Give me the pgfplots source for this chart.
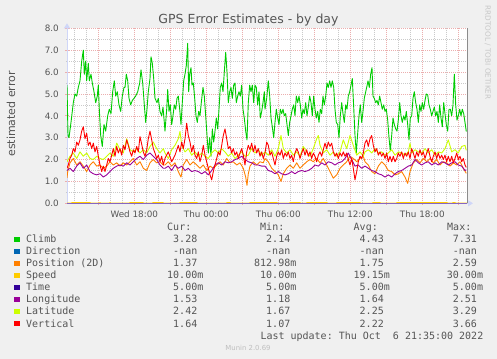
\documentclass[border=0pt]{standalone}
\usepackage{fontspec}
\setmainfont{DejaVu Sans}
\newfontfamily\mono{DejaVu Sans Mono}
\usepackage{pgfplots}
\pgfplotsset{compat=1.18}
\usepackage{pgfplotstable}
\usetikzlibrary{arrows.meta}
\frenchspacing

\definecolor{bgc}{HTML}{F0F0F0}
\definecolor{txtc}{HTML}{555555}
\definecolor{axisc}{HTML}{CFD6F8}
\definecolor{mgrid}{HTML}{EBAEAE}
\definecolor{ngrid}{HTML}{CACACA}
\definecolor{climbc}{HTML}{00CC00}
\definecolor{dirc}{HTML}{0066B3}
\definecolor{posc}{HTML}{FF8000}
\definecolor{speedc}{HTML}{FFCC00}
\definecolor{timec}{HTML}{330099}
\definecolor{lonc}{HTML}{990099}
\definecolor{latc}{HTML}{CCFF00}
\definecolor{vertc}{HTML}{FF0000}

% x = 5-minute slot position (67 = Wed ~12:25, 206.3 = Thu 00:00, 12 per hour)
\pgfplotstableread{
px v
67 5.4
68 3.1
69 3.0
71 3.7
73.3 4.6
75 5.0
76.7 4.9
78.3 5.3
80 5.6
81.7 6.5
83.3 7.0
84.3 5.9
85.7 6.5
86.7 5.6
88.3 6.4
89.3 5.6
91 5.9
92.3 5.5
94 5.1
95.7 4.6
97.3 4.9
98.3 5.4
99.3 4.3
100.7 3.1
102.3 2.6
104 3.6
105.7 3.3
107.7 4.0
109.3 4.3
111 4.1
112.7 5.1
114.3 5.6
115.7 4.9
117.3 5.1
119 4.5
120.7 4.2
122.3 4.9
124 5.3
125 5.3
126.3 5.9
127.7 5.6
129 4.8
130.7 4.5
132.3 4.7
134 4.8
135.7 4.9
137.7 5.1
139.7 5.5
141 6.1
142.7 5.5
144.3 4.5
145.7 3.7
147 4.3
148.3 5.1
150 5.7
151 6.7
152.3 6.4
153.7 5.7
155 4.8
157 4.6
158.3 4.8
160 4.2
161.7 4.0
163 4.4
164.3 3.7
165 3.3
166.7 4.3
167.7 5.2
169 4.2
170.3 4.5
171.7 3.6
172.7 3.9
174.3 4.5
175.7 4.3
177 4.8
178.3 4.9
179.7 4.3
181 3.6
182.3 4.6
183.7 5.6
185 5.9
186.3 6.3
187.7 7.31
188.7 5.1
189.7 5.9
191 6.2
192 5.4
193.3 5.5
194.7 4.8
196 4.0
197.3 3.7
198.7 4.2
200 4.0
201.3 4.6
203 5.3
204.3 4.9
205.7 4.0
207 3.1
208.3 2.3
209.7 3.0
211 2.14
212.3 3.4
213.7 2.8
215 3.3
216.3 3.9
217.7 3.4
219 4.3
220.3 5.3
221.7 5.5
223 5.1
224.3 6.0
225.7 6.9
227 6.0
228.3 4.6
229.7 5.1
231 5.3
232.3 4.8
233.7 5.4
235 5.5
236.3 4.6
237.7 4.9
239 5.1
240.3 4.9
241.7 5.4
243 4.3
244.3 3.9
245.7 3.3
247 2.9
248.3 4.6
249.7 5.4
251 5.1
252.3 5.4
253.7 4.6
255 5.4
256.3 5.3
257.7 4.5
259 5.1
260.3 3.9
261.7 4.2
263 4.6
264.3 5.1
265 4.3
266.7 4.8
268.3 5.6
269.7 4.9
271 3.9
272.3 3.5
273.7 3.0
275 3.7
276.3 4.3
277.7 3.9
279 3.6
280.3 4.3
281.7 4.1
283 4.3
284.3 4.0
285.7 4.1
287 3.6
288.3 3.1
289.7 3.7
291 4.0
292.3 4.3
293.7 4.5
295 4.0
296.3 4.9
297.7 4.6
299 4.9
300.3 4.5
301.7 3.9
303 4.3
304.3 4.1
305.7 4.6
307 4.0
308.3 4.4
309.7 4.9
311 4.6
312.3 4.0
313.7 4.9
315 4.3
316.3 3.9
317.7 4.2
319 3.7
320.3 4.3
321.7 4.1
323 4.9
324.3 4.5
325.7 4.9
327 5.5
328.3 5.3
329.7 5.6
331 5.3
332.3 5.6
333.7 5.3
335 4.3
336.3 3.7
337.7 3.6
339 3.0
340.3 4.0
341.7 4.6
343 4.1
344.3 3.7
345.7 4.5
347 4.3
348.3 4.9
349.7 5.1
351 5.4
352.3 5.7
353.7 4.4
355 3.1
356.3 2.3
357.7 3.2
359 4.0
360.3 4.5
361.7 3.7
363 4.2
364.3 4.8
365 4.95
366.7 5.3
368 5.6
369.3 5.3
370.7 5.9
372 6.2
373 4.9
374.3 4.8
375.7 4.6
377 4.7
378.3 4.5
379.7 4.9
381 4.6
382.3 4.3
383.7 4.5
385 4.2
386.3 4.3
387.7 3.8
389 3.0
390.3 2.4
391.7 3.1
393 3.9
394.3 3.6
395.7 3.4
397 3.3
398.3 3.8
399.7 4.6
401 4.0
402.3 3.7
403.7 4.0
405 3.8
406.3 4.2
407.7 3.6
409 2.9
410.3 3.9
411.7 4.0
413 4.8
414.3 5.1
415.7 4.6
417 4.3
418.3 3.7
419.7 4.5
421 4.2
422.3 4.6
423.7 4.3
425 4.7
426.3 5.0
427.7 4.95
429 4.5
430.3 4.3
431.7 4.0
433 4.2
434.3 4.4
435.7 4.0
437 4.2
438.3 3.7
439.7 4.5
441 3.9
442.3 3.5
443.7 4.6
445 4.1
446.3 3.6
447.7 3.3
449 4.3
450.3 4.3
451.7 4.0
453 4.5
454.3 5.9
455.7 4.5
457 3.8
458.3 4.0
459.7 4.3
461 4.0
462.3 4.3
463.7 4.1
465 3.7
466.3 3.28
}\climb

\pgfplotstableread{
px v
67 1.15
67.7 1.45
70 1.85
73.3 2.05
76.7 1.75
80 1.9
83.3 1.7
86.7 1.45
90 1.75
93.3 1.9
96.7 1.7
100 1.75
103.3 1.6
106.7 1.7
110 1.9
113.3 1.75
116.7 1.85
120 1.7
123.3 1.85
126.7 1.75
130 1.9
133.3 2.05
136.7 1.75
140 1.9
143.3 1.6
146.7 1.5
150 1.85
153.3 2.0
156.7 1.85
160 1.9
163.3 1.75
165 1.75
168.3 1.9
171.7 1.7
175 1.85
178.3 1.45
181 1.2
183.3 1.75
186.7 2.0
190 1.75
193.3 1.9
196.7 1.75
200 1.6
203.3 1.75
206.7 1.5
210 1.7
213.3 1.6
216.7 1.75
220 1.9
223.3 1.75
226.7 2.05
230 1.85
233.3 1.9
236.7 1.75
240 1.85
243.3 1.6
245.7 1.2
247 0.82
248.3 1.35
250 1.7
253.3 1.9
256.7 1.75
260 1.9
263.3 1.85
265 2.05
268.3 1.9
271.7 1.6
275 1.45
278.3 1.3
281 1.0
283.3 1.35
286.7 1.6
290 1.75
293.3 1.6
296.7 1.85
300 1.6
303.3 1.75
306.7 1.9
310 2.0
313.3 1.9
316.7 2.05
320 1.85
323.3 2.05
326.7 1.75
330 1.45
333.3 1.15
336.7 1.3
340 1.6
343.3 1.75
346.7 1.9
350 2.15
353.3 2.05
356.7 1.9
360 2.05
363.3 2.15
365 1.9
368.3 1.75
371.7 1.45
375 1.35
378.3 1.7
381.7 1.9
385 1.75
388.3 1.5
391.7 1.45
395 1.3
398.3 1.35
401.7 1.45
405 1.2
407.7 0.91
410 1.45
413.3 1.85
416.7 2.0
420 1.85
423.3 2.05
426.7 1.9
430 2.05
433.3 1.85
436.7 2.0
440 1.75
443.3 1.9
446.7 1.85
450 1.7
453.3 1.85
456.7 1.75
460 1.9
463.3 1.6
466.3 1.37
}\position

\pgfplotstableread{
px v
67 0.01
71 0.01
72 0.03
90 0.03
91 0.01
99 0.01
100 0.03
101 0.01
109 0.01
110 0.03
111 0.01
129 0.01
130 0.03
143 0.03
144 0.01
152 0.01
153 0.03
163 0.03
164 0.01
179 0.01
180 0.03
197 0.03
198 0.01
226 0.01
227 0.03
230 0.03
231 0.01
249 0.01
250 0.03
277 0.03
278 0.01
289 0.01
290 0.03
300 0.03
301 0.01
306 0.01
307 0.03
327 0.03
328 0.01
336 0.01
337 0.03
360 0.03
361 0.01
372 0.01
373 0.03
380 0.03
381 0.01
396 0.01
397 0.03
447 0.03
448 0.01
452 0.01
453 0.03
455 0.03
456 0.01
467 0.01
}\speed

\pgfplotstableread{
px v
67 0.005
467 0.005
}\timet

\pgfplotstableread{
px v
67 1.5
70 1.6
73.3 1.45
76.7 1.7
80 1.85
83.3 1.6
86.7 1.75
90 1.45
93.3 1.35
96.7 1.3
100 1.35
103.3 1.2
106.7 1.3
110 1.45
113.3 1.6
116.7 1.7
120 1.75
123.3 1.7
126.7 1.85
130 1.75
133.3 1.9
136.7 2.05
140 2.15
143.3 2.0
146.7 2.2
150 2.3
153.3 2.15
156.7 2.0
160 1.75
163.3 1.6
165 1.6
168.3 1.7
171.7 1.5
175 1.75
178.3 1.6
181.7 1.7
185 1.5
188.3 1.6
191.7 1.45
195 1.5
198.3 1.45
201.7 1.35
205 1.45
208.3 1.3
211.7 1.5
215 1.75
218.3 1.85
221.7 1.75
225 1.9
228.3 1.85
231.7 1.9
235 2.0
238.3 2.05
241.7 2.15
245 2.0
248.3 1.9
251.7 1.85
255 1.75
258.3 1.75
261.7 1.7
265 1.7
268.3 1.5
271.7 1.45
275 1.35
278.3 1.45
281.7 1.35
285 1.3
288.3 1.35
291.7 1.45
295 1.35
298.3 1.45
301.7 1.5
305 1.45
308.3 1.5
311.7 1.6
315 1.75
318.3 1.7
321.7 1.85
325 1.75
328.3 1.9
331.7 1.85
335 1.75
338.3 1.85
341.7 1.9
345 2.05
348.3 2.3
351.7 2.0
355 1.7
358.3 1.75
361.7 1.6
365 1.7
368.3 1.6
371.7 1.5
375 1.45
378.3 1.35
381.7 1.3
385 1.2
388.3 1.3
391.7 1.2
395 1.35
398.3 1.45
401.7 1.5
405 1.6
408.3 1.7
411.7 1.75
415 2.0
418.3 1.85
421.7 1.75
425 1.85
428.3 1.9
431.7 1.75
435 1.85
438.3 1.75
441.7 1.9
445 1.85
448.3 1.75
451.7 1.85
455 1.9
458.3 1.75
461.7 1.7
465 1.5
466.3 1.53
}\longitude

\pgfplotstableread{
px v
67 1.9
70 2.15
73.3 2.3
76.7 2.05
80 2.35
83.3 2.15
86.7 2.3
90 2.05
93.3 2.0
96.7 2.15
100 2.05
103.3 2.0
106.7 2.15
110 2.3
113.3 2.15
116.7 2.75
120 2.45
123.3 2.3
126.7 2.95
130 2.45
133.3 2.35
136.7 2.5
140 2.3
143.3 2.45
146.7 2.3
150 2.6
153.3 2.8
156.7 2.5
160 2.3
163.3 2.5
165 2.3
168.3 2.05
171.7 2.45
175 2.65
178.3 2.95
180 3.29
181.7 2.65
185 2.35
188.3 2.5
191.7 2.2
195 2.35
198.3 2.15
201.7 2.3
205 2.15
208.3 2.05
211.7 2.3
215 2.45
218.3 2.3
221.7 2.5
225 2.35
228.3 2.15
231.7 2.3
235 2.05
238.3 2.2
241.7 2.35
245 2.15
248.3 2.2
251.7 2.5
255 2.3
258.3 2.45
261.7 2.2
265 2.35
268.3 2.2
271.7 2.45
275 2.15
278.3 2.5
281 3.1
283.3 2.5
286.7 2.3
290 2.45
293.3 2.2
296.7 2.35
300 2.15
303.3 2.6
306.7 2.35
310 2.15
313.3 2.5
316.7 2.95
318.3 3.1
320 2.65
323.3 2.3
326.7 2.45
330 2.2
333.3 2.35
336.7 2.15
340 2.35
343.3 2.9
346.7 2.5
350 3.1
353.3 2.65
356.7 2.2
360 2.35
363.3 2.15
365 2.35
368.3 2.45
371.7 2.3
375 2.5
378.3 2.3
381.7 2.35
385 2.2
388.3 2.3
391.7 2.45
395 2.2
398.3 2.35
401.7 2.3
405 2.2
408.3 2.35
410 2.75
411.7 2.3
415 2.45
418.3 2.35
421.7 2.3
425 2.5
428.3 2.3
431.7 2.45
435 2.2
438.3 2.35
441.7 2.3
445 2.5
448.3 2.9
451.7 2.35
455 2.45
458.3 2.3
461.7 2.6
465 2.65
466.3 2.42
}\latitude

\pgfplotstableread{
px v
67 1.6
68.3 1.75
70 2.05
71.7 2.2
73.3 2.5
75 2.35
76.7 2.8
78.3 2.65
80 2.9
81.7 3.3
83.3 3.5
85 2.95
86.7 3.2
88.3 2.65
90 2.8
91.7 2.5
93.3 2.75
95 2.35
96.7 2.6
98.3 2.15
100 1.75
101.7 1.45
103.3 1.7
105 1.45
106.7 1.75
108.3 2.05
110 1.9
111.7 2.2
113.3 2.5
115 2.15
116.7 2.6
118.3 2.3
120 2.5
121.7 2.2
123.3 2.65
125 2.45
126.7 2.9
128.3 2.65
130 2.35
131.7 2.15
133.3 2.45
135 2.3
136.7 2.6
138.3 2.35
140 3.05
141.7 2.7
143.3 2.35
145 2.15
146.7 2.45
148.3 2.95
150 3.3
151.7 2.9
153.3 2.5
155 2.3
156.7 2.05
158.3 2.2
160 1.9
161.7 2.15
163.3 1.75
165 2.05
168.3 2.35
171.7 1.9
175 2.2
178.3 2.65
180 2.35
181.7 2.8
183.3 2.5
185 2.95
186.7 3.66
188.3 3.1
190 2.8
191.7 2.35
193.3 2.65
195 2.2
196.7 2.05
198.3 2.35
200 1.9
201.7 2.2
203.3 2.65
205 2.2
206.7 1.9
208.3 1.6
210 1.3
211.7 1.07
213.3 1.45
215 1.75
216.7 2.05
218.3 2.35
220 2.2
221.7 2.65
223.3 3.1
225 3.4
226.7 2.95
228.3 2.5
230 2.6
231.7 2.3
233.3 2.5
235 2.2
236.7 2.35
238.3 2.05
240 2.3
241.7 2.5
243.3 2.2
245 1.75
246.7 2.35
248.3 2.65
250 2.45
251.7 2.75
253.3 2.35
255 2.65
256.7 2.3
258.3 2.5
260 2.15
261.7 2.35
263.3 2.05
265 2.3
266.7 2.8
268.3 2.65
270 2.2
271.7 2.35
273.3 2.05
275 1.75
276.7 2.15
278.3 2.35
280 2.2
281.7 2.45
283.3 2.05
285 2.3
286.7 2.15
288.3 2.35
290 2.05
291.7 2.2
293.3 1.9
295 2.3
296.7 2.5
298.3 2.35
300 2.05
301.7 2.3
303.3 2.5
305 2.2
306.7 2.45
308.3 2.15
310 2.35
311.7 2.05
313.3 2.3
315 2.15
316.7 1.9
318.3 2.2
320 2.35
321.7 2.15
323.3 2.45
325 2.75
326.7 2.5
328.3 2.8
330 2.6
331.7 2.75
333.3 2.35
335 2.15
336.7 2.3
338.3 2.05
340 2.3
341.7 2.15
343.3 2.35
345 2.15
346.7 2.3
348.3 2.0
350 1.75
351.7 2.05
353.3 1.6
355 1.07
356.7 1.45
358.3 1.9
360 2.15
361.7 2.05
363.3 2.3
365 2.75
366.7 2.9
368.3 2.6
370 2.95
371.7 3.1
373.3 2.65
375 2.35
376.7 2.5
378.3 2.2
380 2.35
381.7 2.15
383.3 2.3
385 2.05
386.7 2.3
388.3 1.9
390 2.15
391.7 1.9
393.3 2.15
395 1.9
396.7 2.05
398.3 2.3
400 2.15
401.7 2.35
403.3 2.05
405 2.3
406.7 2.15
408.3 2.35
410 2.05
411.7 2.5
413.3 2.3
415 2.05
416.7 2.35
418.3 2.15
420 2.45
421.7 2.2
423.3 2.35
425 2.05
426.7 2.3
428.3 2.5
430 2.15
431.7 1.9
433.3 2.15
435 2.35
436.7 2.05
438.3 2.3
440 2.05
441.7 2.2
443.3 2.0
445 2.2
446.7 1.9
448.3 2.15
450 1.9
451.7 2.15
453.3 1.85
455 2.05
456.7 2.3
458.3 2.0
460 2.15
461.7 1.9
463.3 2.05
465 1.75
466.3 1.64
}\vertical

\tikzset{
  lg/.style={font=\mono\fontsize{10bp}{12bp}\selectfont, text=txtc, inner sep=0pt},
}
\newcommand{\lrow}[7]{%
  \fill[#2] (14bp,#1bp+0.8bp) rectangle ++(5.5bp,5.5bp);
  \node[lg,anchor=base west] at (26bp,#1bp) {#3};
  \node[lg,anchor=base east] at (197.5bp,#1bp) {#4};
  \node[lg,anchor=base east] at (290.5bp,#1bp) {#5};
  \node[lg,anchor=base east] at (384bp,#1bp) {#6};
  \node[lg,anchor=base east] at (477.2bp,#1bp) {#7};
}

\begin{document}
\begin{tikzpicture}
\fill[bgc] (0,0) rectangle (497bp,359bp);
\useasboundingbox (0,0) rectangle (497bp,359bp);
\begin{axis}[
  name=ax,
  at={(67bp,155.7bp)}, anchor=south west,
  scale only axis, width=400bp, height=175bp,
  xmin=67, xmax=467, ymin=0, ymax=8,
  axis x line*=bottom, axis y line*=left,
  axis background/.style={fill=white},
  axis line style={draw=axisc, line width=1bp},
  x axis line style={-{Triangle[length=5bp,width=6bp]}, shorten >=-6bp},
  y axis line style={-{Triangle[length=5bp,width=6bp]}, shorten >=-5bp},
  xtick={98.3,134.3,170.3,206.3,242.3,278.3,314.3,350.3,386.3,422.3,458.3},
  xticklabels={,Wed 18:00,,Thu 00:00,,Thu 06:00,,Thu 12:00,,Thu 18:00,},
  minor xtick={74.3,86.3,110.3,122.3,146.3,158.3,182.3,194.3,218.3,230.3,254.3,266.3,290.3,302.3,326.3,338.3,362.3,374.3,398.3,410.3,434.3,446.3},
  ytick={0,1,2,3,4,5,6,7,8},
  yticklabels={0.0,1.0,2.0,3.0,4.0,5.0,6.0,7.0,8.0},
  minor ytick={0.5,1.5,2.5,3.5,4.5,5.5,6.5,7.5},
  grid=both,
  major grid style={draw=mgrid, dash pattern=on 1bp off 1bp, line width=0.6bp},
  minor grid style={draw=ngrid, dash pattern=on 1bp off 1bp, line width=0.6bp},
  tick align=center,
  major tick length=3bp, minor tick length=2bp,
  major tick style={draw=mgrid, line width=0.7bp},
  minor tick style={draw=ngrid, line width=0.7bp},
  ticklabel style={font=\fontsize{8.8bp}{10bp}\selectfont, text=txtc, inner sep=0pt},
  xticklabel style={anchor=north, yshift=-5.5bp},
  yticklabel style={anchor=east, xshift=-6.5bp},
  every axis plot/.append style={line width=0.9bp, line join=round, mark=none},
]
\addplot[climbc] table[x=px,y=v]{\climb};
\addplot[posc] table[x=px,y=v]{\position};
\addplot[speedc] table[x=px,y=v]{\speed};
\addplot[timec!60!white] table[x=px,y=v]{\timet};
\addplot[lonc] table[x=px,y=v]{\longitude};
\addplot[latc] table[x=px,y=v]{\latitude};
\addplot[vertc] table[x=px,y=v]{\vertical};
\end{axis}
\draw[color=black!45, line width=1bp] (ax.south east) -- (ax.north east);

% title and labels
\node[anchor=base, inner sep=0pt, text=txtc, font=\fontsize{12.5bp}{14bp}\selectfont] at (248.5bp,335bp) {GPS Error Estimates - by day};
\node[anchor=base, rotate=90, inner sep=0pt, text=txtc, font=\fontsize{11bp}{13bp}\selectfont] at (15bp,245bp) {estimated error};
\node[rotate=-90, inner sep=0pt, text=black!22, font=\fontsize{7.3bp}{9bp}\selectfont] at (487.7bp,306.5bp) {RRDTOOL / TOBI OETIKER};

% legend table
\node[lg,anchor=base east] at (191.5bp,128bp) {Cur:};
\node[lg,anchor=base east] at (284.5bp,128bp) {Min:};
\node[lg,anchor=base east] at (378bp,128bp) {Avg:};
\node[lg,anchor=base east] at (471.5bp,128bp) {Max:};
\lrow{116}{climbc}{Climb}{3.28}{2.14}{4.43}{7.31}
\lrow{104}{dirc}{Direction}{-nan}{-nan}{-nan}{-nan}
\lrow{92}{posc}{Position (2D)}{1.37}{812.98\rlap{m}}{1.75}{2.59}
\lrow{80}{speedc}{Speed}{10.00\rlap{m}}{10.00\rlap{m}}{19.15\rlap{m}}{30.00\rlap{m}}
\lrow{68}{timec}{Time}{5.00\rlap{m}}{5.00\rlap{m}}{5.00\rlap{m}}{5.00\rlap{m}}
\lrow{56}{lonc}{Longitude}{1.53}{1.18}{1.64}{2.51}
\lrow{44}{latc}{Latitude}{2.42}{1.67}{2.25}{3.29}
\lrow{32}{vertc}{Vertical}{1.64}{1.07}{2.22}{3.66}
\node[lg,anchor=base east] at (483.5bp,20bp) {Last update: Thu Oct~~6 21:35:00 2022};
\node[anchor=base, inner sep=0pt, text=black!25, font=\fontsize{6.9bp}{8bp}\selectfont] at (248bp,8.5bp) {Munin 2.0.69};
\end{tikzpicture}
\end{document}
